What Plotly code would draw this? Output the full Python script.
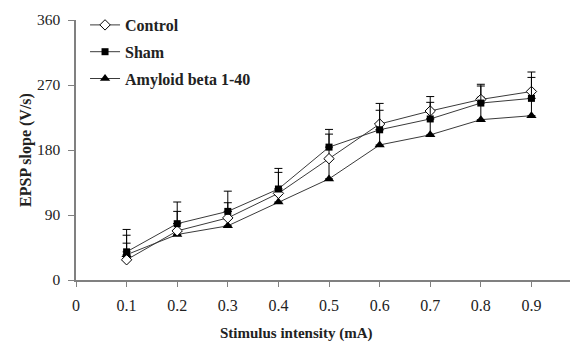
import plotly.graph_objects as go

x_vals = [0.1, 0.2, 0.3, 0.4, 0.5, 0.6, 0.7, 0.8, 0.9]
control = [28, 68, 86, 120, 168, 216, 234, 250, 261]
control_err = [34, 27, 21, 29, 34, 28.5, 20, 21, 27]
sham = [39, 78, 95, 126, 184, 208, 223, 245, 251.5]
sham_err = [31, 30, 28, 28.5, 24.5, 27, 23, 23.6, 29]
abeta = [35, 63, 75, 108, 140, 187, 201, 222, 227.5]
abeta_err = [16, 15, 20, 18, 28, 21, 22, 31, 24]
y_ticks = [0, 90, 180, 270, 360]
x_ticks = [0, 0.1, 0.2, 0.3, 0.4, 0.5, 0.6, 0.7, 0.8, 0.9]
x_tick_text = ["0", "0.1", "0.2", "0.3", "0.4", "0.5", "0.6", "0.7", "0.8", "0.9"]
x_title = "Stimulus intensity (mA)"
y_title = "EPSP slope (V/s)"

FONT = "Liberation Serif, Times New Roman, serif"
LINE = "#3a3a3a"
AXIS = "#808080"

def err(vals):
    return dict(type="data", symmetric=False, array=vals, arrayminus=[0] * len(vals),
                color="black", thickness=1, width=4)

fig = go.Figure()
fig.add_trace(go.Scatter(
    x=x_vals, y=abeta, name="Amyloid beta 1-40", mode="lines+markers",
    line=dict(color=LINE, width=1), legendrank=3, legendgroup="c",
    marker=dict(symbol="triangle-up", size=9, color="black"),
    error_y=err(abeta_err)))
fig.add_trace(go.Scatter(
    x=x_vals, y=control, name="Control", mode="lines+markers",
    line=dict(color=LINE, width=1), legendrank=1, legendgroup="a",
    marker=dict(symbol="diamond", size=8, color="white", line=dict(color="black", width=1)),
    error_y=err(control_err)))
fig.add_trace(go.Scatter(
    x=x_vals, y=sham, name="Sham", mode="lines+markers",
    line=dict(color=LINE, width=1), legendrank=2, legendgroup="b",
    marker=dict(symbol="square", size=7, color="black"),
    error_y=err(sham_err)))

fig.add_annotation(
    text=x_title, xref="paper", yref="paper", x=0.44, y=0,
    xanchor="center", yanchor="middle", yshift=-53, showarrow=False,
    font=dict(family=FONT, size=15, color="#222", weight="bold"))

fig.update_layout(
    width=578, height=342,
    margin=dict(l=68, r=8, t=12, b=70, autoexpand=False),
    paper_bgcolor="white", plot_bgcolor="white",
    font=dict(family=FONT, size=15, color="#222"),
    showlegend=True,
    legend=dict(x=0.018, y=1.0, xanchor="left", yanchor="top", yref="container",
                bgcolor="rgba(0,0,0,0)", tracegroupgap=3,
                font=dict(family=FONT, size=16, color="#222", weight="bold")),
    xaxis=dict(range=[0, 0.992], tickvals=x_ticks, ticktext=x_tick_text, automargin=False,
               showgrid=False, zeroline=False, showline=True, linecolor=AXIS, linewidth=1.5,
               ticks="outside", ticklen=5, tickcolor=AXIS, ticklabelstandoff=5,
               tickfont=dict(family=FONT, size=16, color="#222")),
    yaxis=dict(range=[0, 360], tickvals=y_ticks, automargin=False,
               showgrid=False, zeroline=False, showline=True, linecolor=AXIS, linewidth=1.5,
               ticks="outside", ticklen=6, tickcolor=AXIS, ticklabelstandoff=5,
               tickfont=dict(family=FONT, size=15.5, color="#222"),
               title=dict(text=y_title, standoff=1,
                          font=dict(family=FONT, size=16, color="#222", weight="bold"))),
)

fig.write_html("out.html")
